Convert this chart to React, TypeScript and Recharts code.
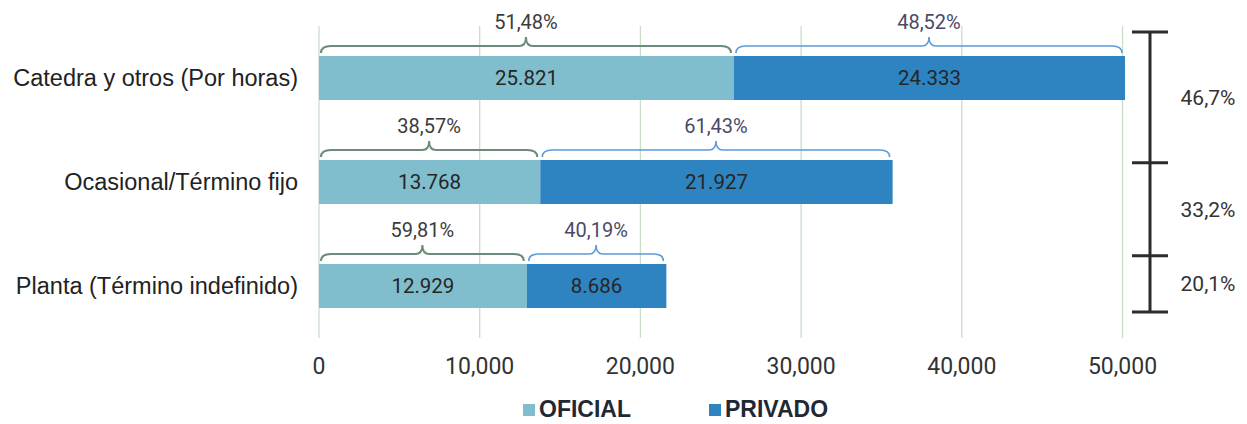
import React from 'react';
import { BarChart, Bar, XAxis, YAxis, CartesianGrid, LabelList } from 'recharts';

const categories = ['Catedra y otros (Por horas)', 'Ocasional/Término fijo', 'Planta (Término indefinido)'];
const oficial = [25821, 13768, 12929];
const privado = [24333, 21927, 8686];
const oficialPct = [51.48, 38.57, 59.81];
const privadoPct = [48.52, 61.43, 40.19];
const categoryShare = [46.7, 33.2, 20.1];
const xTicks = [0, 10000, 20000, 30000, 40000, 50000];
const seriesNames = ['OFICIAL', 'PRIVADO'];

const OFICIAL_COLOR = '#80bdcd';
const PRIVADO_COLOR = '#2e83c1';

const data = categories.map((category, i) => ({
  category,
  oficial: oficial[i],
  privado: privado[i],
  oficialPct: oficialPct[i],
  privadoPct: privadoPct[i],
}));

const W = 1247;
const H = 424;

const fmtDots = (v: number) => String(v).replace(/\B(?=(\d{3})+(?!\d))/g, '.');
const fmtComma = (v: number) => String(v).replace(/\B(?=(\d{3})+(?!\d))/g, ',');
const fmtPct = (v: number, d: number) => v.toFixed(d).replace('.', ',') + '%';

const numFont = 'Roboto, "Liberation Sans", sans-serif';
const labelFont = '"Liberation Sans", Arial, sans-serif';

const makeBrace = (stroke: string, strokeWidth: number, textColor: string) => (props: any) => {
  const vb = props.viewBox && props.viewBox.width !== undefined ? props.viewBox : props;
  const { x, y, width } = vb;
  const x1 = x + 2;
  const x2 = x + width - 3;
  const xm = (x1 + x2) / 2;
  const ye = y - 3;
  const yl = y - 10;
  const yt = y - 19;
  const r = 10;
  const d = `M${x1},${ye} Q${x1},${yl} ${x1 + r},${yl} L${xm - 7},${yl} Q${xm},${yl} ${xm},${yt} Q${xm},${yl} ${xm + 7},${yl} L${x2 - r},${yl} Q${x2},${yl} ${x2},${ye}`;
  return (
    <g>
      <path d={d} fill="none" stroke={stroke} strokeWidth={strokeWidth} />
      <text x={xm} y={y - 34} dy="0.35em" textAnchor="middle" fontFamily={numFont} fontSize={20} fill={textColor}>
        {fmtPct(Number(props.value), 2)}
      </text>
    </g>
  );
};

const CategoryTick = (props: any) => {
  const { x, y, payload } = props;
  return (
    <text x={x} y={y} dy="0.35em" textAnchor="end" fontFamily={labelFont} fontSize={23.5} fill="#222">
      {payload.value}
    </text>
  );
};

const ValueTick = (props: any) => {
  const { x, y, payload } = props;
  return (
    <text x={x} y={y + 28} dy="0.35em" textAnchor="middle" fontFamily={numFont} fontSize={23} fill="#333">
      {fmtComma(payload.value)}
    </text>
  );
};

const Bracket = () => {
  const bx = 1150;
  const top = 32;
  const len = 280;
  const total = categoryShare.reduce((a, b) => a + b, 0);
  let acc = top;
  const marks = [top];
  const mids: number[] = [];
  categoryShare.forEach((s) => {
    const h = (s / total) * len;
    mids.push(acc + h / 2);
    acc += h;
    marks.push(acc);
  });
  return (
    <svg width={W} height={H} style={{ position: 'absolute', left: 0, top: 0, pointerEvents: 'none' }}>
      <line x1={bx} x2={bx} y1={marks[0]} y2={marks[marks.length - 1]} stroke="#2b2b2b" strokeWidth={3} />
      {marks.map((m, i) => (
        <line key={i} x1={bx - 18} x2={bx + 18} y1={m} y2={m} stroke="#2b2b2b" strokeWidth={3} />
      ))}
      {mids.map((m, i) => (
        <text key={i} x={1208} y={m} dy="0.35em" textAnchor="middle" fontFamily={numFont} fontSize={21} fill="#333">
          {fmtPct(categoryShare[i], 1)}
        </text>
      ))}
    </svg>
  );
};

const LegendBox = () => {
  const colors = [OFICIAL_COLOR, PRIVADO_COLOR];
  return (
    <div style={{ position: 'absolute', left: 523, top: 397, display: 'flex', gap: 78, alignItems: 'center' }}>
      {seriesNames.map((n, i) => (
        <div key={n} style={{ display: 'flex', alignItems: 'center' }}>
          <span style={{ width: 12, height: 12, background: colors[i], display: 'inline-block', marginRight: 4 }} />
          <span style={{ fontFamily: labelFont, fontWeight: 700, fontSize: 23, color: '#1f2933', lineHeight: '25px' }}>{n}</span>
        </div>
      ))}
    </div>
  );
};

const App: React.FC = () => {
  return (
    <div style={{ position: 'absolute', left: 0, top: 0, width: W, height: H, background: '#fff' }}>
      <BarChart width={W} height={H} data={data} layout="vertical" margin={{ top: 26, right: 122, bottom: 36, left: 0 }}>
        <CartesianGrid horizontal={false} verticalValues={xTicks} stroke="#c9dec9" strokeWidth={1.3} />
        <XAxis
          type="number"
          domain={[0, 50000]}
          ticks={xTicks}
          axisLine={false}
          tickLine={false}
          tickSize={0}
          tickMargin={0}
          height={50}
          tick={<ValueTick />}
          interval={0}
        />
        <YAxis
          type="category"
          dataKey="category"
          width={319}
          axisLine={false}
          tickLine={false}
          tickSize={0}
          tickMargin={21}
          tick={<CategoryTick />}
          interval={0}
        />
        <Bar dataKey="oficial" stackId="a" fill={OFICIAL_COLOR} barSize={44} isAnimationActive={false}>
          <LabelList dataKey="oficial" position="center" formatter={(v: any) => fmtDots(Number(v))} fill="#262626" fontSize={20.5} fontFamily={numFont} />
          <LabelList dataKey="oficialPct" content={makeBrace('#6a8c78', 2, '#3c3c3c')} />
        </Bar>
        <Bar dataKey="privado" stackId="a" fill={PRIVADO_COLOR} barSize={44} isAnimationActive={false}>
          <LabelList dataKey="privado" position="center" formatter={(v: any) => fmtDots(Number(v))} fill="#262626" fontSize={20.5} fontFamily={numFont} />
          <LabelList dataKey="privadoPct" content={makeBrace('#5b9bd6', 1.6, '#4a4a66')} />
        </Bar>
      </BarChart>
      <Bracket />
      <LegendBox />
    </div>
  );
};

export default App;
